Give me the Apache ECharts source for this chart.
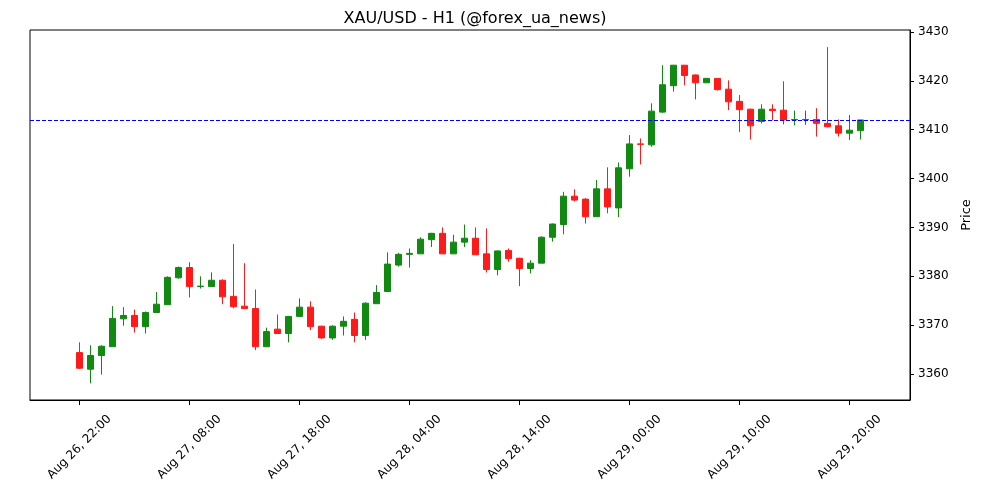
<!DOCTYPE html>
<html><head><meta charset="utf-8">
<script src="https://cdn.jsdelivr.net/npm/echarts@6/dist/echarts.min.js"></script>
<style>html,body{margin:0;padding:0;background:#fff}#c{width:1000px;height:500px}</style>
</head><body><div id="c"></div>
<script>
// [open, close, low, high], hourly from Aug 26 22:00
const opens  = [3364.4,3361.0,3363.8,3365.6,3371.3,3372.0,3369.7,3372.6,3374.2,3379.7,3381.8,3377.9,3377.9,3379.2,3375.9,3373.9,3373.4,3365.6,3369.2,3368.3,3371.8,3373.7,3369.8,3367.4,3369.8,3371.2,3367.9,3374.4,3376.9,3382.3,3384.5,3384.6,3387.5,3388.8,3384.6,3387.0,3387.8,3384.6,3381.4,3385.3,3383.7,3381.6,3382.7,3388.0,3390.6,3396.4,3395.8,3392.2,3397.9,3394.0,3402.0,3407.1,3406.9,3413.6,3419.0,3423.2,3421.2,3419.6,3420.5,3418.3,3415.8,3414.2,3411.7,3414.2,3414.0,3412.0,3412.0,3412.1,3411.3,3410.8,3409.3,3409.8];
const closes = [3361.2,3363.8,3365.7,3371.4,3372.0,3369.7,3372.6,3374.3,3379.8,3381.8,3377.9,3378.0,3379.2,3375.8,3373.8,3373.4,3365.6,3368.7,3368.3,3371.8,3373.7,3369.7,3367.4,3369.8,3370.8,3367.9,3374.5,3376.7,3382.5,3384.5,3384.7,3387.6,3388.8,3384.6,3387.0,3387.8,3384.4,3381.4,3385.2,3383.6,3381.6,3382.7,3388.0,3390.7,3396.4,3395.6,3392.2,3397.9,3394.2,3402.2,3407.1,3407.0,3413.8,3419.2,3423.2,3421.1,3419.6,3420.5,3418.2,3415.7,3414.1,3410.8,3414.2,3413.9,3412.0,3412.1,3412.1,3411.3,3410.6,3409.3,3409.9,3412.0];
const lows   = [3361.0,3358.1,3359.9,3365.6,3369.9,3368.5,3368.3,3372.6,3374.2,3379.5,3375.7,3377.5,3377.9,3374.3,3373.5,3373.3,3364.9,3365.6,3368.2,3366.5,3371.8,3369.0,3367.2,3367.0,3367.9,3366.5,3367.0,3374.4,3376.9,3382.0,3381.8,3384.6,3386.0,3384.6,3384.6,3386.0,3384.4,3380.8,3380.2,3383.0,3378.0,3380.6,3382.7,3387.1,3388.6,3395.3,3390.8,3392.2,3392.9,3392.1,3400.4,3402.9,3406.5,3413.4,3417.8,3419.1,3416.2,3419.6,3418.0,3414.0,3409.5,3408.0,3411.3,3411.9,3411.1,3410.9,3411.0,3408.6,3410.5,3408.6,3407.9,3408.0];
const highs  = [3366.5,3365.9,3365.9,3373.9,3373.7,3373.2,3372.8,3376.8,3380.0,3382.0,3382.9,3380.0,3380.8,3379.4,3386.6,3382.7,3377.3,3369.5,3372.2,3371.9,3375.5,3374.9,3369.9,3370.0,3371.8,3372.6,3374.7,3378.2,3384.9,3384.8,3385.7,3388.0,3388.9,3390.0,3388.5,3390.6,3390.0,3389.8,3385.3,3385.7,3383.8,3383.3,3388.2,3390.8,3397.3,3397.8,3396.0,3399.7,3402.3,3403.3,3408.9,3408.2,3415.4,3423.2,3423.2,3423.2,3421.3,3420.6,3420.5,3420.1,3417.1,3414.3,3415.2,3415.2,3419.9,3413.9,3413.9,3414.4,3426.9,3412.1,3413.0,3412.0];
const refLine = 3412.0;
const yTicks = [3360,3370,3380,3390,3400,3410,3420,3430];
const PAD = 4;
const months=['Jan','Feb','Mar','Apr','May','Jun','Jul','Aug','Sep','Oct','Nov','Dec'];
const cats=[];const data=[];
const t0=Date.UTC(2025,7,26,22);
for(let i=-PAD;i<opens.length+PAD;i++){
  const d=new Date(t0+i*3600000);
  cats.push(months[d.getUTCMonth()]+' '+d.getUTCDate()+', '+String(d.getUTCHours()).padStart(2,'0')+':00');
  if(i>=0&&i<opens.length) data.push([opens[i],closes[i],lows[i],highs[i]]); else data.push('-');
}
const showIdx=(i)=>(i-PAD)>=0&&(i-PAD)<opens.length&&(i-PAD)%10===0;
const ch=echarts.init(document.getElementById('c'));
ch.setOption({
  animation:false,
  title:{text:'XAU/USD - H1 (@forex_ua_news)',left:470,top:6,textAlign:'center',textStyle:{fontFamily:'DejaVu Sans',fontSize:16,fontWeight:'normal',color:'#000'}},
  grid:{left:30,right:90,top:30,bottom:100,show:true,borderColor:'#000',borderWidth:1},
  xAxis:{type:'category',data:cats,boundaryGap:true,
    axisLine:{lineStyle:{color:'#000'}},
    axisTick:{show:true,alignWithLabel:true,interval:(i)=>showIdx(i),lineStyle:{color:'#000',width:1},length:5},
    axisLabel:{interval:(i)=>showIdx(i),rotate:45,align:'center',verticalAlign:'middle',color:'#000',fontFamily:'DejaVu Sans',fontSize:12,margin:47},
    splitLine:{show:false}},
  yAxis:{type:'value',position:'right',min:3354.7,max:3430.4,
    name:'Price',nameLocation:'middle',nameRotate:90,nameGap:50,nameTextStyle:{fontFamily:'DejaVu Sans',fontSize:13,color:'#000'},
    axisLine:{show:true,lineStyle:{color:'#000'}},
    axisTick:{show:true,length:4,lineStyle:{color:'#000'},customValues:yTicks},
    axisLabel:{color:'#000',fontFamily:'DejaVu Sans',fontSize:12,customValues:yTicks,formatter:(v)=>String(Math.round(v))},
    splitLine:{show:false}},
  series:[{type:'candlestick',data:data,barWidth:7,
    itemStyle:{color:'#108a10',color0:'#ff1a1a',borderColor:'#108a10',borderColor0:'#ff1a1a',borderWidth:1},
    markLine:{symbol:'none',silent:true,label:{show:false},lineStyle:{color:'#0000ff',type:[4,2],width:1},data:[{yAxis:refLine}]}
  }]
});
</script></body></html>
